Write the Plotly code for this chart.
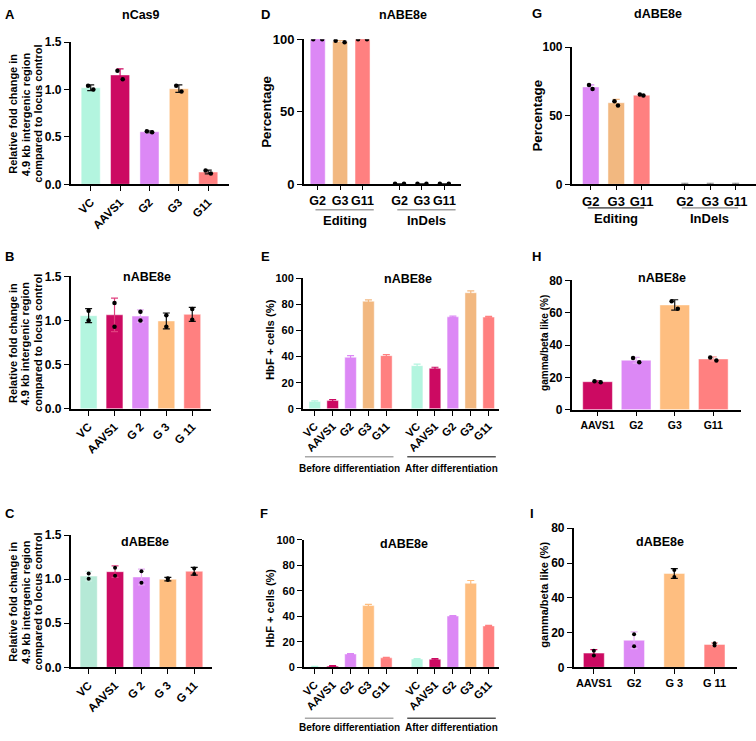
import plotly.graph_objects as go

W, H = 756, 741
FONT = "Liberation Sans, Arial, sans-serif"

# ---------------- colours (style) ----------------
MINT, MAG, VIO, ORA, SAL = "#B3F5DF", "#CC0A62", "#DC88F5", "#FEBE80", "#FF8080"
ORA2 = "#F2B880"
BLK = "#111111"

# ---------------- DATA ----------------
# A  nCas9
a_cats = ["VC", "AAVS1", "G2", "G3", "G11"]
a_mean = [1.02, 1.155, 0.555, 1.01, 0.13]
a_sd = [0.03, 0.065, 0.012, 0.04, 0.02]
a_reps = [[1.04, 1.00], [1.20, 1.11], [0.56, 0.55], [1.04, 0.98], [0.145, 0.115]]

# B  nABE8e
b_cats = ["VC", "AAVS1", "G 2", "G 3", "G 11"]
b_mean = [1.055, 1.065, 1.05, 0.995, 1.07]
b_sd = [0.08, 0.19, 0.07, 0.09, 0.08]
b_reps = [[1.11, 1.00], [1.20, 0.93], [1.10, 1.00], [1.06, 0.93], [1.13, 1.01]]

# C  dABE8e
c_cats = ["VC", "AAVS1", "G 2", "G 3", "G 11"]
c_mean = [1.035, 1.085, 1.025, 1.00, 1.09]
c_sd = [0.055, 0.065, 0.09, 0.02, 0.045]
c_reps = [[1.065, 1.005], [1.13, 1.04], [1.09, 0.96], [1.01, 0.99], [1.12, 1.06]]

# D  nABE8e editing / indels
d_groups = ["Editing", "InDels"]
d_cats = ["G2", "G3", "G11"]
d_mean = [[100.0, 98.5, 100.0], [0.3, 0.3, 0.3]]
d_sd = [[0.3, 0.7, 0.2], [0.1, 0.1, 0.1]]
d_reps = [[[100, 100], [99, 98], [100, 100]], [[0.4, 0.4], [0.4, 0.4], [0.4, 0.4]]]

# G  dABE8e editing / indels
g_groups = ["Editing", "InDels"]
g_cats = ["G2", "G3", "G11"]
g_mean = [[71.0, 59.5, 65.0], [0.2, 0.2, 0.2]]
g_sd = [[1.5, 2.5, 0.5], [0.6, 0.6, 0.6]]
g_reps = [[[72.5, 69.5], [60.5, 57.5], [65.5, 64.8]], [[], [], []]]

# E  nABE8e HbF+ cells
e_groups = ["Before differentiation", "After differentiation"]
e_cats = ["VC", "AAVS1", "G2", "G3", "G11"]
e_mean = [[5.5, 6.2, 39.5, 82.5, 40.7], [33.0, 31.0, 70.5, 89.0, 70.3]]
e_sd = [[0.6, 0.7, 1.2, 1.0, 0.8], [1.2, 0.8, 0.6, 1.4, 0.5]]

# F  dABE8e HbF+ cells
f_groups = ["Before differentiation", "After differentiation"]
f_cats = ["VC", "AAVS1", "G2", "G3", "G11"]
f_mean = [[0.5, 1.0, 10.5, 48.5, 7.5], [6.5, 6.3, 40.3, 66.0, 32.5]]
f_sd = [[0.2, 0.3, 0.4, 1.0, 0.3], [0.3, 0.6, 0.4, 2.2, 0.5]]

# H  nABE8e gamma/beta
h_cats = ["AAVS1", "G2", "G3", "G11"]
h_mean = [17.3, 30.6, 64.8, 31.4]
h_sd = [0.6, 1.8, 3.2, 1.3]
h_reps = [[17.6, 17.0], [32.0, 29.3], [67.0, 62.5], [32.3, 30.4]]

# I  dABE8e gamma/beta
i_cats = ["AAVS1", "G2", "G 3", "G 11"]
i_mean = [8.2, 15.6, 54.0, 13.2]
i_sd = [2.0, 4.8, 2.8, 0.85]
i_reps = [[9.6, 6.8], [19.0, 12.2], [56.0, 52.0], [13.8, 12.6]]

fold_lines = ["Relative fold change in", "4.9 kb intergenic region", "compared to locus control"]

# ---------------- helpers ----------------
fig = go.Figure()
layout = {}
annotations = []
shapes = []


def fx(p):
    return p / W


def fy(p):
    return 1 - p / H


def ax_names(i):
    s = "" if i == 1 else str(i)
    return "x" + s, "y" + s, "xaxis" + s, "yaxis" + s


def add_bars(i, pos, means, sds, colors, errcols, bw, reps=None, dot_off=0.0, dot_size=4.5):
    xa, ya, _, _ = ax_names(i)
    for k in range(len(pos)):
        fig.add_trace(go.Bar(
            x=[pos[k]], y=[means[k]], width=bw, xaxis=xa, yaxis=ya,
            marker=dict(color=colors[k], line=dict(color="rgba(255,255,255,0.6)", width=0.8)),
            error_y=dict(type="data", array=[sds[k]], color=errcols[k], thickness=1.2, width=3.5),
            showlegend=False, hoverinfo="skip"))
        if reps is not None and len(reps[k]) > 0:
            n = len(reps[k])
            offs = [(-dot_off if j % 2 == 0 else dot_off) for j in range(n)]
            fig.add_trace(go.Scatter(
                x=[pos[k] + o for o in offs], y=reps[k], mode="markers", xaxis=xa, yaxis=ya,
                marker=dict(color="black", size=dot_size), showlegend=False, hoverinfo="skip"))


def set_axes(i, xdom, ydom, xrange, yrange, tickvals, ticktext, yticks, angle, xfs, yfs, yfmt=None):
    _, _, xk, yk = ax_names(i)
    xa, ya, _, _ = ax_names(i)
    layout[xk] = dict(
        domain=[fx(xdom[0]), fx(xdom[1])], range=xrange, anchor=ya,
        tickvals=tickvals, ticktext=ticktext, tickangle=angle,
        showline=True, linecolor="black", linewidth=1.6, ticks="outside", ticklen=5,
        tickwidth=1.4, tickcolor="black", showgrid=False, zeroline=False,
        tickfont=dict(family=FONT, size=xfs, color="black", weight="bold"), fixedrange=True)
    layout[yk] = dict(
        domain=[fy(ydom[1]), fy(ydom[0])], range=yrange, anchor=xa,
        tickvals=yticks, showline=True, linecolor="black", linewidth=1.6, ticks="outside",
        ticklen=5, tickwidth=1.4, tickcolor="black", showgrid=False, zeroline=False,
        tickfont=dict(family=FONT, size=yfs, color="black", weight="bold"), fixedrange=True)
    if yfmt:
        layout[yk]["tickformat"] = yfmt


def text(x, y, s, size, anchor="center", angle=0):
    annotations.append(dict(x=fx(x), y=fy(y), xref="paper", yref="paper", text=s, showarrow=False,
                            xanchor=anchor, yanchor="middle", textangle=angle,
                            font=dict(family=FONT, size=size, color="black", weight="bold")))


def fold_title(yc):
    for k, line in enumerate(fold_lines):
        text(10 + 12.5 * k, yc, line, 11, angle=-90)


def group_line(i, x0, x1, ypx, color):
    xa = ax_names(i)[0]
    shapes.append(dict(type="line", xref=xa, yref="paper", x0=x0, x1=x1, y0=fy(ypx), y1=fy(ypx),
                       line=dict(color=color, width=1.6)))


# ---------------- Panel A ----------------
pos = list(range(len(a_cats)))
add_bars(1, pos, a_mean, a_sd, [MINT, MAG, VIO, ORA, SAL], [BLK, MAG, "#777777", BLK, BLK], 0.65,
         a_reps, 0.09)
set_axes(1, (68, 227), (36, 181), [-0.68, 4.71], [0, 1.5], pos, a_cats, [0, 0.5, 1.0, 1.5], -45, 11.5, 12, ".1f")
text(139, 8, "nCas9", 12.5)
text(0, 8, "A", 13, "left")
fold_title(109)

# ---------------- Panel B ----------------
pos = list(range(len(b_cats)))
add_bars(2, pos, b_mean, b_sd, [MINT, MAG, VIO, ORA, SAL], [BLK, "#E0407F", "#E8B0F5", BLK, BLK], 0.65,
         b_reps, 0.0)
set_axes(2, (68, 209), (275, 410), [-0.69, 4.73], [0, 1.5], pos, b_cats, [0, 0.5, 1.0, 1.5], -45, 11.5, 12, ".1f")
text(145, 276, "nABE8e", 12.5)
text(0, 255, "B", 13, "left")
fold_title(343)

# ---------------- Panel C ----------------
pos = list(range(len(c_cats)))
add_bars(3, pos, c_mean, c_sd, ["#B5E9D6", MAG, VIO, ORA, SAL], ["#CDEFE3", "#E03C80", "#E8B0F5", BLK, BLK],
         0.65, c_reps, 0.0, 4)
set_axes(3, (68, 210), (539, 674), [-0.68, 4.68], [0, 1.5], pos, c_cats, [0, 0.5, 1.0, 1.5], -45, 11.5, 12, ".1f")
text(143, 546, "dABE8e", 12.5)
text(0, 517, "C", 13, "left")
fold_title(607)


# ---------------- grouped panels ----------------
def grouped(i, groups, cats, means, sds, colors, gap, bw, reps=None, dot_off=0.0, errcols=None):
    allpos, alltext = [], []
    for g in range(len(groups)):
        start = g * (len(cats) + gap)
        p = [start + k for k in range(len(cats))]
        ec = errcols[g] if errcols else colors
        add_bars(i, p, means[g], sds[g], colors, ec, bw, reps[g] if reps else None, dot_off)
        allpos += p
        alltext += cats
    return allpos, alltext


# ---------------- Panel D ----------------
d_gap = 0.65
pos, tt = grouped(4, d_groups, d_cats, d_mean, d_sd, [VIO, ORA2, SAL], d_gap, 0.67, d_reps, 0.2,
                  [[VIO, ORA2, SAL], [BLK, BLK, BLK]])
set_axes(4, (302, 460), (33, 181), [-0.62, 6.4], [0, 100], pos, tt, [0, 50, 100], 0, 12.5, 13)
layout["xaxis4"]["ticklen"] = 4
for g, name in enumerate(d_groups):
    x0 = pos[g * 3] - 0.1
    x1 = pos[g * 3 + 2] + 0.5
    group_line(4, x0, x1, 207, "#A0A0A0")
    cx = 316 + ((x0 + x1) / 2) * 22.5
    text(cx, 218, name, 13)
text(402, 8, "nABE8e", 12.5)
text(257, 8, "D", 13, "left")
text(265, 107, "Percentage", 13.3, angle=-90)

# ---------------- Panel G ----------------
g_gap = 0.7
pos, tt = grouped(7, g_groups, g_cats, g_mean, g_sd, [VIO, ORA2, SAL], g_gap, 0.65, g_reps, 0.07,
                  [[VIO, ORA2, SAL], ["#888888", "#888888", "#888888"]])
set_axes(7, (571, 756), (41, 181), [-0.75, 6.5], [0, 100], pos, tt, [0, 50, 100], 0, 13, 12)
layout["xaxis7"]["ticklen"] = 4
for g, name in enumerate(g_groups):
    x0 = pos[g * 3] - 0.12
    x1 = pos[g * 3 + 2] + 0.1
    group_line(7, x0, x1, 205, "#666666" if g == 0 else "#A8A8A8")
    cx = 590 + ((x0 + x1) / 2) * 25.5
    text(cx, 216, name, 13)
text(658, 7, "dABE8e", 12.5)
text(529, 7, "G", 13, "left")
text(537, 111, "Percentage", 13.3, angle=-90)

# ---------------- Panel E ----------------
e_gap = 0.72
ecol = [MINT, MAG, VIO, ORA2, SAL]
pos, tt = grouped(5, e_groups, e_cats, e_mean, e_sd, ecol, e_gap, 0.65)
set_axes(5, (301, 498), (277, 410), [-0.67, 10.3], [0, 100], pos, tt, [0, 20, 40, 60, 80, 100], -45, 11, 11)
for g, name in enumerate(e_groups):
    x0 = pos[g * 5] - 0.55
    x1 = pos[g * 5 + 4] + 0.4
    group_line(5, x0, x1, 459, "#A8A8A8" if g == 0 else "#555555")
    cx = 313 + ((x0 + x1) / 2) * 18
    text(cx, 471, name, 10)
text(407, 278, "nABE8e", 12.5)
text(257, 255, "E", 13, "left")
text(268, 339, "HbF + cells (%)", 11.3, angle=-90)

# ---------------- Panel F ----------------
fcol = [MINT, MAG, VIO, ORA, SAL]
pos, tt = grouped(6, f_groups, f_cats, f_mean, f_sd, fcol, e_gap, 0.65)
set_axes(6, (302, 498), (544, 674), [-0.61, 10.3], [0, 100], pos, tt, [0, 20, 40, 60, 80, 100], -45, 11, 11)
for g, name in enumerate(f_groups):
    x0 = pos[g * 5] - 0.55
    x1 = pos[g * 5 + 4] + 0.4
    group_line(6, x0, x1, 726, "#A8A8A8" if g == 0 else "#555555")
    cx = 313 + ((x0 + x1) / 2) * 18
    text(cx, 735, name, 10)
text(403, 548, "dABE8e", 12.5)
text(256, 517, "F", 13, "left")
text(268, 613, "HbF + cells (%)", 11, angle=-90)

# ---------------- Panel H ----------------
pos = list(range(len(h_cats)))
add_bars(8, pos, h_mean, h_sd, [MAG, VIO, ORA, SAL], [MAG, "#E8B0F5", BLK, "#FF9F9F"], 0.77, h_reps, 0.08)
set_axes(8, (571, 741), (279, 411), [-0.67, 3.72], [0, 80], pos, h_cats, [0, 20, 40, 60, 80], 0, 10.5, 12)
text(662, 277, "nABE8e", 12.5)
text(529, 255, "H", 13, "left")
text(543, 343, "gamma/beta like (%)", 10, angle=-90)

# ---------------- Panel I ----------------
pos = list(range(len(i_cats)))
add_bars(9, pos, i_mean, i_sd, [MAG, VIO, ORA, SAL], [MAG, "#E8B0F5", BLK, "#FF9F9F"], 0.52, i_reps, 0.0, 4)
set_axes(9, (573, 737), (532, 674), [-0.5, 3.56], [0, 80], pos, i_cats, [0, 20, 40, 60, 80], 0, 11, 12)
text(660, 546, "dABE8e", 12.5)
text(527, 517, "I", 13, "left")
text(543, 600, "gamma/beta like (%)", 11, angle=-90)

layout.update(dict(
    width=W, height=H, margin=dict(l=0, r=0, t=0, b=0),
    paper_bgcolor="white", plot_bgcolor="white", showlegend=False,
    barmode="overlay", annotations=annotations, shapes=shapes,
    font=dict(family=FONT, color="black"),
))
fig.update_layout(**layout)
fig.write_html("out.html", config={"displayModeBar": False},
               post_script="document.body.style.margin='0';document.body.style.overflow='hidden';")
